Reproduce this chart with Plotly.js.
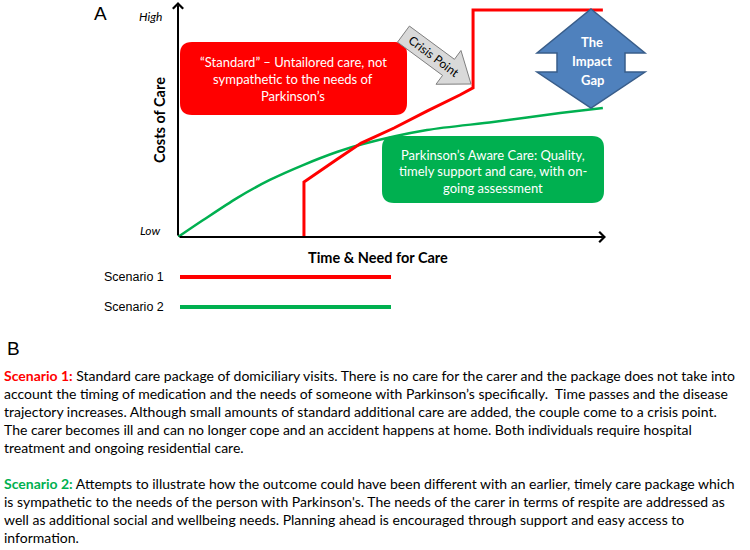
<!DOCTYPE html>
<html>
<head>
<meta charset="utf-8">
<script src="https://cdn.plot.ly/plotly-3.0.1.min.js"></script>
<style>html,body{margin:0;padding:0;background:#fff}</style>
</head>
<body>
<div id="chart" style="width:750px;height:550px"></div>
<script>
// ---- data (conceptual units: time 0-100, cost 0-100) ----
const scenario1Time = [29.5, 29.5, 37.0, 42.9, 50.6, 58.3, 66.0, 69.1, 69.1, 99.5];
const scenario1Cost = [0, 24.0, 33.6, 41.0, 47.6, 55.0, 62.0, 65.1, 99.1, 99.1];
const scenario2Time = [0, 5.9, 13.8, 21.5, 29.3, 37.2, 43.3, 58.3, 73.8, 89.5, 99.5];
const scenario2Cost = [0, 7.4, 17.0, 24.9, 31.4, 37.1, 40.6, 46.7, 50.2, 54.1, 56.3];
const seriesNames = ["Scenario 1", "Scenario 2"];
const seriesColors = ["#ff0000", "#00b050"];
const yTickLabels = ["Low", "High"];
const xTitle = "Time & Need for Care";
const yTitle = "Costs of Care";
const redBoxLines = ["\u201cStandard\u201d \u2013 Untailored care, not", "sympathetic to the needs of", "Parkinson\u2019s"];
const greenBoxLines = ["Parkinson\u2019s Aware Care: Quality,", "timely support and care, with on-", "going assessment"];
const gapLines = ["The", "Impact", "Gap"];
const crisisLabel = "Crisis Point";
const paraLines = [
  ['<span style="color:#ff0000"><b>Scenario 1:</b></span> Standard care package of domiciliary visits. There is no care for the carer and the package does not take into', 375],
  ['account the timing of medication and the needs of someone with Parkinson\u2019s specifically.  Time passes and the disease', 393],
  ['trajectory increases. Although small amounts of standard additional care are added, the couple come to a crisis point.', 411],
  ['The carer becomes ill and can no longer cope and an accident happens at home. Both individuals require hospital', 429],
  ['treatment and ongoing residential care.', 447],
  ['<span style="color:#00b050"><b>Scenario 2:</b></span> Attempts to illustrate how the outcome could have been different with an earlier, timely care package which', 483],
  ['is sympathetic to the needs of the person with Parkinson\'s. The needs of the carer in terms of respite are addressed as', 501],
  ['well as additional social and wellbeing needs. Planning ahead is encouraged through support and easy access to', 519],
  ['information.', 537]
];

// ---- layout helpers (page pixel -> paper) ----
const W = 750, H = 550;
const px = v => v / W;
const py = v => 1 - v / H;
const CAL = "Lato, 'Open Sans', sans-serif";
const ARI = "'Liberation Sans', Arial, sans-serif";

function roundRect(x0, y0, x1, y1, r) {
  const p = (x, y) => px(x) + ',' + py(y);
  return 'M' + p(x0 + r, y0) + ' L' + p(x1 - r, y0) + ' Q' + p(x1, y0) + ' ' + p(x1, y0 + r) +
    ' L' + p(x1, y1 - r) + ' Q' + p(x1, y1) + ' ' + p(x1 - r, y1) +
    ' L' + p(x0 + r, y1) + ' Q' + p(x0, y1) + ' ' + p(x0, y1 - r) +
    ' L' + p(x0, y0 + r) + ' Q' + p(x0, y0) + ' ' + p(x0 + r, y0) + ' Z';
}
function poly(pts) {
  return pts.map((q, i) => (i ? 'L' : 'M') + px(q[0]) + ',' + py(q[1])).join(' ') + ' Z';
}

// crisis arrow geometry
const tip = [471, 84], dirv = [0.804, 0.594], nrm = [-0.594, 0.804];
const loc = (a, b) => [tip[0] + a * dirv[0] + b * nrm[0], tip[1] + a * dirv[1] + b * nrm[1]];
const crisisPts = [loc(0, 0), loc(-28, 21), loc(-28, 10), loc(-84, 10), loc(-84, -10), loc(-28, -10), loc(-28, -21)];
const crisisCenter = loc(-46, 0);

// impact gap double arrow
const cx = 591;
const gapPts = [[cx, 9], [cx + 54, 53], [cx + 34, 53], [cx + 34, 72], [cx + 54, 72], [cx, 108],
  [cx - 54, 72], [cx - 34, 72], [cx - 34, 53], [cx - 54, 53]];

const traces = [
  {x: scenario2Time, y: scenario2Cost, mode: 'lines', name: seriesNames[1],
   line: {color: seriesColors[1], width: 2.5, shape: 'spline', smoothing: 0.8}, hoverinfo: 'skip'},
  {x: scenario1Time, y: scenario1Cost, mode: 'lines', name: seriesNames[0],
   line: {color: seriesColors[0], width: 3}, hoverinfo: 'skip'}
];

const shapes = [
  {type: 'path', xref: 'paper', yref: 'paper', path: roundRect(180, 42, 407, 115, 12),
   fillcolor: '#ff0000', line: {width: 0}},
  {type: 'path', xref: 'paper', yref: 'paper', path: roundRect(382, 136, 604, 203, 12),
   fillcolor: '#00b050', line: {width: 0}},
  {type: 'path', xref: 'paper', yref: 'paper', path: poly(crisisPts),
   fillcolor: '#d9d9d9', line: {color: '#7f7f7f', width: 1}},
  {type: 'path', xref: 'paper', yref: 'paper', path: poly(gapPts),
   fillcolor: '#4f81bd', line: {color: '#385d8a', width: 1.5}},
  {type: 'line', xref: 'paper', yref: 'paper', x0: px(180), x1: px(391), y0: py(277), y1: py(277),
   line: {color: seriesColors[0], width: 4}},
  {type: 'line', xref: 'paper', yref: 'paper', x0: px(180), x1: px(391), y0: py(307), y1: py(307),
   line: {color: seriesColors[1], width: 4}}
];

function txt(text, x, y, size, opts) {
  return Object.assign({xref: 'paper', yref: 'paper', x: px(x), y: py(y), text: text, showarrow: false,
    xanchor: 'center', yanchor: 'middle', font: {family: CAL, size: size, color: '#000'}}, opts || {});
}

const ann = [];
// axes arrows
ann.push({xref: 'paper', yref: 'paper', x: px(606), y: py(237), ax: -428, ay: 0,
  showarrow: true, arrowhead: 4, arrowsize: 1, arrowwidth: 2, arrowcolor: '#000', text: ''});
ann.push({xref: 'paper', yref: 'paper', x: px(178), y: py(2), ax: 0, ay: 235,
  showarrow: true, arrowhead: 4, arrowsize: 1, arrowwidth: 2, arrowcolor: '#000', text: ''});
// axis labels
ann.push(txt('<i>' + yTickLabels[1] + '</i>', 150, 17, 12));
ann.push(txt('<i>' + yTickLabels[0] + '</i>', 150, 231, 12));
ann.push(txt('<b>' + yTitle + '</b>', 160, 120, 14.5, {textangle: -90}));
ann.push(txt('<b>' + xTitle + '</b>', 378, 257, 14.5));
ann.push(txt('A', 101, 13, 19, {font: {family: ARI, size: 19, color: '#000'}}));
ann.push(txt('B', 13, 348, 19, {font: {family: ARI, size: 19, color: '#000'}}));
// boxes text
redBoxLines.forEach((t, i) => ann.push(txt(t, 293, 62 + i * 17, 13, {font: {family: CAL, size: 13, color: '#fff'}})));
greenBoxLines.forEach((t, i) => ann.push(txt(t, 493, 155 + i * 16.5, 13, {font: {family: CAL, size: 13, color: '#fff'}})));
gapLines.forEach((t, i) => ann.push(txt('<b>' + t + '</b>', 592, 42 + i * 19, 13, {font: {family: CAL, size: 13, color: '#fff'}})));
ann.push(txt(crisisLabel, crisisCenter[0], crisisCenter[1], 12, {textangle: 37, font: {family: CAL, size: 12, color: '#000'}}));
// legend
seriesNames.forEach((n, i) => ann.push(txt(n, 102, 277 + i * 30, 12.5,
  {xanchor: 'left', font: {family: ARI, size: 12.5, color: '#000'}})));
// paragraph
paraLines.forEach(l => ann.push(txt(l[0], 2, l[1], 14, {xanchor: 'left'})));

const layout = {
  width: W, height: H, margin: {l: 0, r: 0, t: 0, b: 0},
  paper_bgcolor: '#fff', plot_bgcolor: 'rgba(0,0,0,0)', showlegend: false,
  xaxis: {domain: [px(178), px(605)], range: [0, 100], visible: false, fixedrange: true},
  yaxis: {domain: [py(237), py(8)], range: [0, 100], visible: false, fixedrange: true},
  shapes: shapes, annotations: ann
};
Plotly.newPlot('chart', traces, layout, {displayModeBar: false, staticPlot: true});
</script>
</body>
</html>
